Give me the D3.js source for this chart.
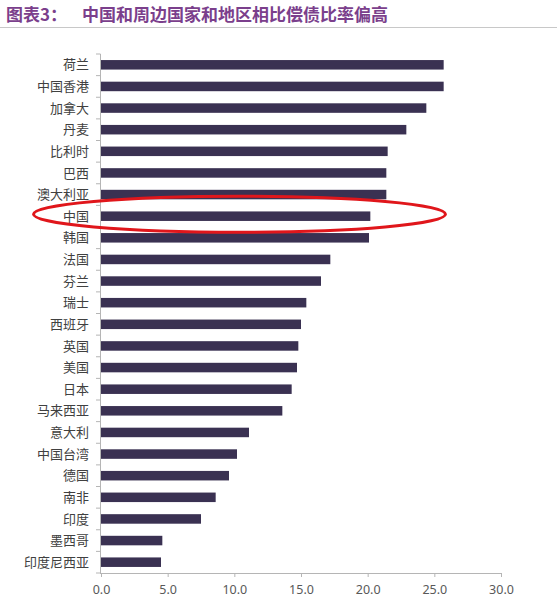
<!DOCTYPE html>
<html>
<head>
<meta charset="utf-8">
<script src="https://cdn.jsdelivr.net/npm/d3@7"></script>
<style>
  html, body { margin: 0; padding: 0; background: #fff; }
  svg { display: block; }
</style>
</head>
<body>
<svg id="chart" width="557" height="610"></svg>
<script>
// 数据
const countries = [
  "荷兰", "中国香港", "加拿大", "丹麦", "比利时", "巴西", "澳大利亚", "中国",
  "韩国", "法国", "芬兰", "瑞士", "西班牙", "英国", "美国", "日本",
  "马来西亚", "意大利", "中国台湾", "德国", "南非", "印度", "墨西哥", "印度尼西亚"
];
const ratios = [
  25.7, 25.7, 24.4, 22.9, 21.5, 21.4, 21.4, 20.2,
  20.1, 17.2, 16.5, 15.4, 15.0, 14.8, 14.7, 14.3,
  13.6, 11.1, 10.2, 9.6, 8.6, 7.5, 4.6, 4.5
];
const xTicks = [0, 5, 10, 15, 20, 25, 30];
const highlight = "中国";

const W = 557, H = 610;
const svg = d3.select("#chart");

/* ── 标题 ─────────────────────────── */
svg.append("text")
  .attr("x", 6).attr("y", 21)
  .attr("fill", "#7b3f8c")
  .attr("font-family", "'Noto Sans CJK SC', sans-serif")
  .attr("font-size", 17)
  .attr("font-weight", "bold")
  .text("图表3：");
svg.append("text")
  .attr("x", 82).attr("y", 21)
  .attr("fill", "#7b3f8c")
  .attr("font-family", "'Noto Sans CJK SC', sans-serif")
  .attr("font-size", 17)
  .attr("font-weight", "bold")
  .text("中国和周边国家和地区相比偿债比率偏高");
svg.append("line")
  .attr("x1", 0).attr("x2", W)
  .attr("y1", 27.5).attr("y2", 27.5)
  .attr("stroke", "#c8c8c8").attr("stroke-width", 1);

/* ── 比例尺 ───────────────────────── */
const x = d3.scaleLinear().domain([0, 30]).range([101, 501]);
const y = d3.scaleBand().domain(countries).range([54, 573]).paddingInner(0.56).paddingOuter(0.28);

const data = countries.map((c, i) => ({ name: c, value: ratios[i] }));

/* ── 柱 ───────────────────────────── */
svg.append("g")
  .selectAll("rect")
  .data(data)
  .join("rect")
  .attr("x", x(0))
  .attr("y", d => y(d.name))
  .attr("width", d => x(d.value) - x(0))
  .attr("height", y.bandwidth())
  .attr("fill", "#3a3152");

/* ── 坐标轴 ───────────────────────── */
const axisColor = "#b5b5b5";
const gx = svg.append("g")
  .attr("transform", `translate(0,573)`)
  .call(d3.axisBottom(x).tickValues(xTicks).tickFormat(d3.format(".1f")).tickSize(4).tickPadding(8));
gx.select(".domain").attr("stroke", axisColor).attr("d", `M${x(0) - 1},0.5H${x(30)}`);
gx.selectAll(".tick line").attr("stroke", axisColor);
gx.selectAll(".tick text")
  .attr("fill", "#595959")
  .attr("font-family", "'Noto Sans', sans-serif")
  .attr("font-size", 12.5);

const gy = svg.append("g").attr("transform", `translate(${x(0) - 1},0)`);
gy.append("line")
  .attr("x1", 0.5).attr("x2", 0.5)
  .attr("y1", 54).attr("y2", 573)
  .attr("stroke", axisColor);
// 类别分隔刻度
const step = y.step();
const bounds = d3.range(countries.length + 1).map(i => 54 + i * (519 / countries.length));
gy.selectAll("line.tk")
  .data(bounds)
  .join("line")
  .attr("class", "tk")
  .attr("x1", -4).attr("x2", 0.5)
  .attr("y1", d => d).attr("y2", d => d)
  .attr("stroke", axisColor);
gy.selectAll("text")
  .data(countries)
  .join("text")
  .attr("x", -11)
  .attr("y", d => y(d) + y.bandwidth() / 2)
  .attr("dy", "0.36em")
  .attr("text-anchor", "end")
  .attr("fill", "#404040")
  .attr("font-family", "'Noto Sans CJK SC', sans-serif")
  .attr("font-size", 13)
  .text(d => d);

/* ── 红圈标注 ─────────────────────── */
const cy = y(highlight) + y.bandwidth() / 2 - 2;
svg.append("ellipse")
  .attr("cx", 239.5).attr("cy", cy)
  .attr("rx", 206).attr("ry", 18)
  .attr("fill", "none")
  .attr("stroke", "#e0161b")
  .attr("stroke-width", 3);
</script>
</body>
</html>
